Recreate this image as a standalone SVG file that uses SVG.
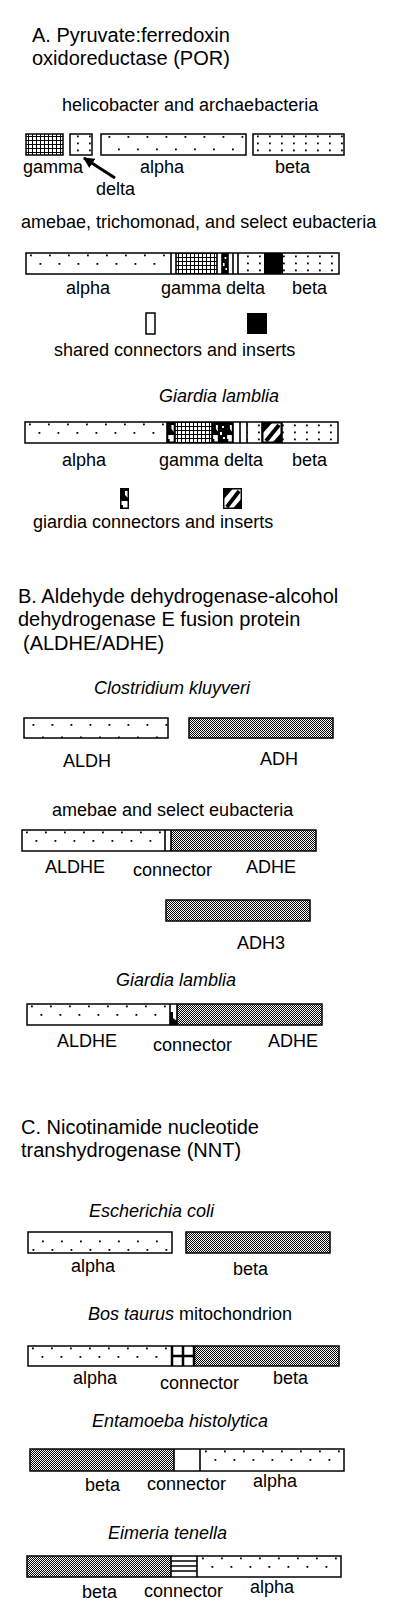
<svg xmlns="http://www.w3.org/2000/svg" xmlns:xlink="http://www.w3.org/1999/xlink" width="400" height="1618" viewBox="0 0 400 1618">
<style>
text{font-family:"Liberation Sans",Arial,Helvetica,sans-serif;fill:#000}
.t{font-size:20px}
.l{font-size:18px}
.i{font-size:18px;font-style:italic}
.b{stroke:#000;stroke-width:1.5}
.w{fill:#fff}
.k{fill:#000}
.pa{fill:url(#dotsA)}
.pb{fill:url(#dotsB)}
.pg{fill:url(#grid)}
.pc{fill:url(#checker)}
.conn{stroke:#000;stroke-width:1.6;fill:none}
</style>
<defs>
<pattern id="dotsA" patternUnits="userSpaceOnUse" width="19" height="21">
<rect width="19" height="21" fill="#fff"/>
<rect x="4" y="1.5" width="1.8" height="1.8" fill="#000"/>
<rect x="13.5" y="10" width="1.8" height="1.8" fill="#000"/>
</pattern>
<pattern id="dotsB" patternUnits="userSpaceOnUse" width="12" height="7">
<rect width="12" height="7" fill="#fff"/>
<rect x="5" y="2.5" width="1.8" height="1.8" fill="#000"/>
</pattern>
<pattern id="grid" patternUnits="userSpaceOnUse" width="4" height="4">
<rect width="4" height="4" fill="#fff"/>
<rect width="4" height="1" fill="#000"/>
<rect width="1" height="4" fill="#000"/>
</pattern>
<pattern id="checker" patternUnits="userSpaceOnUse" width="2" height="2">
<rect width="2" height="2" fill="#ffffff"/>
<rect width="1" height="1" fill="#000"/>
<rect x="1" y="1" width="1" height="1" fill="#000"/>
</pattern>
<symbol id="gconn" viewBox="0 0 9 21" preserveAspectRatio="none">
<rect x="0" y="0" width="9" height="21" fill="#fff"/>
<polygon points="0,0 9,0 9,3 5,3 5,7 8,10 8,13 0,13" fill="#000"/>
<polygon points="0,17 3,17 3,21 0,21" fill="#000"/>
<rect x="0.75" y="0.75" width="7.5" height="19.5" fill="none" stroke="#000" stroke-width="1.5"/>
</symbol>
<symbol id="hatch" viewBox="0 0 20 21" preserveAspectRatio="none">
<rect x="0" y="0" width="20" height="21" fill="#fff"/>
<polygon points="0,0 11,0 0,12" fill="#000"/>
<polygon points="20,21 10,21 20,10" fill="#000"/>
<line x1="4" y1="19" x2="17" y2="3" stroke="#000" stroke-width="4"/>
<rect x="0.75" y="0.75" width="18.5" height="19.5" fill="none" stroke="#000" stroke-width="1.5"/>
</symbol>
<symbol id="ginsert" viewBox="0 0 7 21" preserveAspectRatio="none">
<rect width="7" height="21" fill="#000"/>
<rect x="3" y="4" width="2" height="2" fill="#fff"/>
<rect x="1" y="10" width="2" height="3" fill="#fff"/>
<rect x="4" y="15" width="2" height="2" fill="#fff"/>
</symbol>
<marker id="arr" viewBox="0 0 10 10" refX="9" refY="5" markerWidth="11" markerHeight="11" orient="auto" markerUnits="userSpaceOnUse">
<path d="M0,0 L10,5 L0,10 z" fill="#000"/>
</marker>
</defs>

<g id="sectionA-title">
<text class="t" x="32" y="42">A. Pyruvate:ferredoxin</text>
<text class="t" x="32" y="65">oxidoreductase (POR)</text>
</g>

<g id="por-helicobacter">
<text class="l" x="62" y="111">helicobacter and archaebacteria</text>
<rect class="pg b" x="26" y="134" width="37" height="21"/>
<rect class="pb b" x="70" y="134" width="22" height="21"/>
<rect class="pa b" x="101" y="134" width="145" height="21"/>
<rect class="pb b" x="253" y="134" width="91" height="21"/>
<text class="l" x="23" y="173">gamma</text>
<text class="l" x="140" y="173">alpha</text>
<text class="l" x="275" y="173">beta</text>
<text class="l" x="96" y="195">delta</text>
</g>

<g id="connectors">
<line x1="115" y1="178" x2="84" y2="158" stroke="#000" stroke-width="3" marker-end="url(#arr)"/>
</g>

<g id="por-amebae">
<text class="l" x="21" y="228">amebae, trichomonad, and select eubacteria</text>
<g transform="translate(26,253)">
<rect class="pa" x="0" y="0" width="145" height="21"/>
<rect class="w" x="145" y="0" width="5" height="21"/>
<rect class="pg" x="150" y="0" width="41" height="21"/>
<rect class="w" x="191" y="0" width="5" height="21"/>
<use xlink:href="#ginsert" x="196" y="0" width="6" height="21"/>
<rect class="w" x="202" y="0" width="10" height="21"/>
<rect class="pb" x="212" y="0" width="26" height="21"/>
<rect class="k" x="238" y="0" width="19" height="21"/>
<rect class="pb" x="257" y="0" width="56" height="21"/>
<path class="conn" d="M145,0V21M150,0V21M191,0V21M196,0V21M202,0V21M207,0V21M212,0V21"/>
<rect class="b" x="0" y="0" width="313" height="21" fill="none"/>
</g>
<text class="l" x="66" y="294">alpha</text>
<text class="l" x="161" y="294">gamma delta</text>
<text class="l" x="292" y="294">beta</text>
</g>

<g id="legend-shared">
<rect class="w b" x="146" y="313" width="9" height="21"/>
<rect class="k" x="247" y="313" width="20" height="21"/>
<text class="l" x="54" y="356">shared connectors and inserts</text>
</g>

<g id="por-giardia">
<text class="i" x="159" y="402">Giardia lamblia</text>
<g transform="translate(25,422)">
<rect class="pa" x="0" y="0" width="142" height="21"/>
<use xlink:href="#gconn" x="142" y="0" width="8" height="21"/>
<rect class="pg" x="150" y="0" width="37" height="21"/>
<use xlink:href="#gconn" x="187" y="0" width="7" height="21"/>
<use xlink:href="#ginsert" x="194" y="0" width="7" height="21"/>
<use xlink:href="#gconn" x="201" y="0" width="7" height="21"/>
<rect class="w" x="208" y="0" width="14" height="21"/>
<rect class="pb" x="222" y="0" width="15" height="21"/>
<use xlink:href="#hatch" x="237" y="0" width="20" height="21"/>
<rect class="pb" x="257" y="0" width="56" height="21"/>
<path class="conn" d="M142,0V21M150,0V21M187,0V21M208,0V21M215,0V21M222,0V21M237,0V21M257,0V21"/>
<rect class="b" x="0" y="0" width="313" height="21" fill="none"/>
</g>
<text class="l" x="62" y="466">alpha</text>
<text class="l" x="159" y="466">gamma delta</text>
<text class="l" x="292" y="466">beta</text>
</g>

<g id="legend-giardia">
<use xlink:href="#gconn" x="120" y="488" width="9" height="21"/>
<use xlink:href="#hatch" x="223" y="488" width="19" height="21"/>
<text class="l" x="33" y="528">giardia connectors and inserts</text>
</g>

<g id="sectionB-title">
<text class="t" x="18" y="603">B. Aldehyde dehydrogenase-alcohol</text>
<text class="t" x="18" y="626">dehydrogenase E fusion protein</text>
<text class="t" x="23" y="650">(ALDHE/ADHE)</text>
</g>

<g id="aldhe-clostridium">
<text class="i" x="94" y="694">Clostridium kluyveri</text>
<rect class="pa b" x="24" y="718" width="144" height="20"/>
<rect class="pc b" x="189" y="718" width="144" height="20"/>
<text class="l" x="63" y="767">ALDH</text>
<text class="l" x="260" y="765">ADH</text>
</g>

<g id="aldhe-amebae">
<text class="l" x="52" y="816">amebae and select eubacteria</text>
<g transform="translate(22,830)">
<rect class="pa" x="0" y="0" width="143" height="21"/>
<rect class="w" x="143" y="0" width="6" height="21"/>
<rect class="pc" x="149" y="0" width="145" height="21"/>
<path class="conn" d="M143,0V21M149,0V21"/>
<rect class="b" x="0" y="0" width="294" height="21" fill="none"/>
</g>
<text class="l" x="45" y="873">ALDHE</text>
<text class="l" x="133" y="876">connector</text>
<text class="l" x="246" y="873">ADHE</text>
</g>

<g id="adh3">
<rect class="pc b" x="166" y="900" width="144" height="21"/>
<text class="l" x="237" y="949">ADH3</text>
</g>

<g id="aldhe-giardia">
<text class="i" x="116" y="986">Giardia lamblia</text>
<g transform="translate(27,1004)">
<rect class="pa" x="0" y="0" width="143" height="21"/>
<rect class="w" x="143" y="0" width="7" height="21"/>
<polygon points="143,8 146,8 146,14 150,17 150,21 143,21" fill="#000"/>
<rect class="pc" x="150" y="0" width="145" height="21"/>
<path class="conn" d="M143,0V21M150,0V21"/>
<rect class="b" x="0" y="0" width="295" height="21" fill="none"/>
</g>
<text class="l" x="57" y="1047">ALDHE</text>
<text class="l" x="153" y="1051">connector</text>
<text class="l" x="268" y="1047">ADHE</text>
</g>

<g id="sectionC-title">
<text class="t" x="21" y="1134">C. Nicotinamide nucleotide</text>
<text class="t" x="21" y="1157">transhydrogenase (NNT)</text>
</g>

<g id="nnt-ecoli">
<text class="i" x="89" y="1217">Escherichia coli</text>
<rect class="pa b" x="28" y="1232" width="144" height="21"/>
<rect class="pc b" x="186" y="1232" width="144" height="21"/>
<text class="l" x="71" y="1272">alpha</text>
<text class="l" x="233" y="1275">beta</text>
</g>

<g id="nnt-bos">
<text class="l" x="88" y="1320"><tspan font-style="italic">Bos taurus</tspan> mitochondrion</text>
<g transform="translate(28,1346)">
<rect class="pa" x="0" y="0" width="144" height="20"/>
<rect class="w" x="144" y="0" width="22" height="20"/>
<rect class="pc" x="166" y="0" width="145" height="20"/>
<path d="M144,0V20M155,0V20M166,0V20M144,10H166" stroke="#000" stroke-width="2.5" fill="none"/>
<rect class="b" x="0" y="0" width="311" height="20" fill="none"/>
</g>
<text class="l" x="73" y="1384">alpha</text>
<text class="l" x="160" y="1389">connector</text>
<text class="l" x="273" y="1384">beta</text>
</g>

<g id="nnt-entamoeba">
<text class="i" x="92" y="1427">Entamoeba histolytica</text>
<g transform="translate(30,1449)">
<rect class="pc" x="0" y="0" width="144" height="22"/>
<rect class="w" x="144" y="0" width="26" height="22"/>
<rect class="pa" x="170" y="0" width="144" height="22"/>
<path class="conn" d="M144,0V22M170,0V22"/>
<rect class="b" x="0" y="0" width="314" height="22" fill="none"/>
</g>
<text class="l" x="85" y="1491">beta</text>
<text class="l" x="147" y="1490">connector</text>
<text class="l" x="253" y="1487">alpha</text>
</g>

<g id="nnt-eimeria">
<text class="i" x="108" y="1539">Eimeria tenella</text>
<g transform="translate(27,1556)">
<rect class="pc" x="0" y="0" width="144" height="21"/>
<rect class="w" x="144" y="0" width="26" height="21"/>
<path d="M144,5H170M144,10H170M144,15H170" stroke="#000" stroke-width="1.5" fill="none"/>
<rect class="pa" x="170" y="0" width="144" height="21"/>
<path class="conn" d="M144,0V21M170,0V21"/>
<rect class="b" x="0" y="0" width="314" height="21" fill="none"/>
</g>
<text class="l" x="82" y="1598">beta</text>
<text class="l" x="144" y="1597">connector</text>
<text class="l" x="250" y="1593">alpha</text>
</g>
</svg>
